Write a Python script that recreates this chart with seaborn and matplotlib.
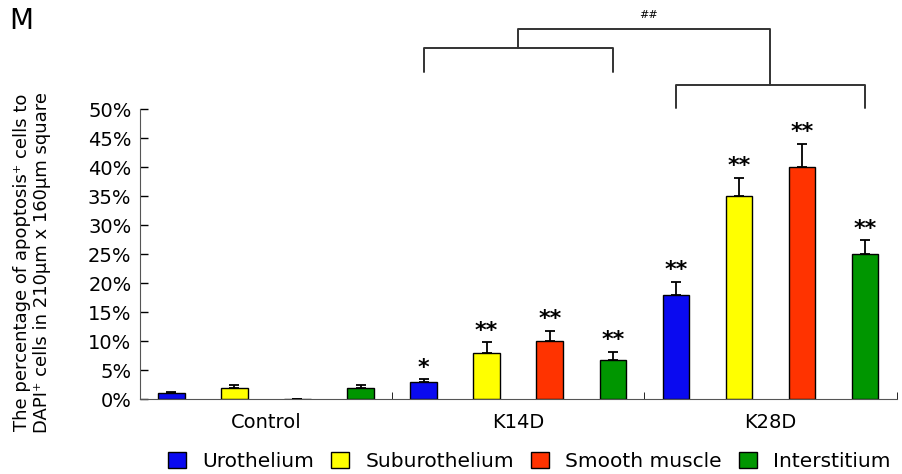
import numpy as np
import pandas as pd
import matplotlib
matplotlib.use('Agg')
import matplotlib.pyplot as plt
import seaborn as sns

groups = ['Control', 'K14D', 'K28D']
tissues = ['Urothelium', 'Suburothelium', 'Smooth muscle', 'Interstitium']
colors = ['#0a0af0', '#ffff00', '#ff3300', '#009600']

# mean percentages per tissue, in the order of groups
urothelium = [1.0, 3.0, 18.0]
suburothelium = [2.0, 8.0, 35.0]
smooth_muscle = [0.0, 10.0, 40.0]
interstitium = [2.0, 6.8, 25.0]

# upper error (SD)
err_urothelium = [0.2, 0.4, 2.2]
err_suburothelium = [0.4, 1.8, 3.1]
err_smooth_muscle = [0.0, 1.8, 4.0]
err_interstitium = [0.4, 1.4, 2.4]

# significance marks
stars_urothelium = ['', '*', '**']
stars_suburothelium = ['', '**', '**']
stars_smooth_muscle = ['', '**', '**']
stars_interstitium = ['', '**', '**']

values = [urothelium, suburothelium, smooth_muscle, interstitium]
errors = [err_urothelium, err_suburothelium, err_smooth_muscle, err_interstitium]
stars = [stars_urothelium, stars_suburothelium, stars_smooth_muscle, stars_interstitium]

df = pd.DataFrame(
    [[g, t, v[i]] for t, v in zip(tissues, values) for i, g in enumerate(groups)],
    columns=['group', 'tissue', 'value']
)

sns.set_style('white')
plt.rcParams['font.family'] = ['DejaVu Sans']
plt.rcParams['text.color'] = 'black'
plt.rcParams['xtick.color'] = 'black'
plt.rcParams['ytick.color'] = 'black'
plt.rcParams['axes.labelcolor'] = 'black'

fig = plt.figure(figsize=(9.02, 4.74), dpi=100)
ax = fig.add_axes([0.155, 0.158, 0.839, 0.612])

sns.barplot(
    data=df, x='group', y='value', hue='tissue',
    order=groups, hue_order=tissues, palette=colors, saturation=1,
    width=1.0, gap=0.58, edgecolor='black', linewidth=1.0,
    errorbar=None, legend=False, ax=ax
)

for cont, err, st in zip(ax.containers, errors, stars):
    xs = [p.get_x() + p.get_width() / 2 for p in cont.patches]
    ys = [p.get_height() for p in cont.patches]
    ax.errorbar(xs, ys, yerr=[np.zeros(len(err)), err], fmt='none',
                ecolor='black', elinewidth=1.3, capsize=3.5, capthick=1.3)
    for x, y, e, s in zip(xs, ys, err, st):
        if s:
            ax.text(x, y + e + 2.0, s, ha='center', va='center',
                    fontsize=16, fontweight='bold')

ax.set_xlim(-0.5, 2.5)
ax.set_ylim(0, 50)
ax.set_yticks(np.arange(0, 51, 5))
ax.set_yticklabels([f'{v}%' for v in range(0, 51, 5)], fontsize=14)
ax.tick_params(axis='y', direction='in', length=6, width=1, left=True, pad=6)
ax.set_xticks([0, 1, 2])
ax.set_xticklabels(groups, fontsize=14)
ax.tick_params(axis='x', length=0, pad=10)
ax.set_xticks([0.5, 1.5, 2.5], minor=True)
ax.tick_params(axis='x', which='minor', direction='in', length=5, bottom=True)
ax.set_xlabel('')
ax.set_ylabel('The percentage of apoptosis\u207a cells to\nDAPI\u207a cells in 210\u03bcm x 160\u03bcm square',
              fontsize=13, linespacing=1.1)
ax.yaxis.set_label_coords(-0.118, 0.47)
for side in ['top', 'right']:
    ax.spines[side].set_visible(False)
for side in ['left', 'bottom']:
    ax.spines[side].set_color('#555555')

# comparison brackets
lk = dict(color='#333333', lw=1.4, clip_on=False)
ax.plot([0.625, 0.625, 1.375, 1.375], [56.4, 60.5, 60.5, 56.4], **lk)
ax.plot([1.625, 1.625, 2.375, 2.375], [50.2, 54.1, 54.1, 50.2], **lk)
ax.plot([1.0, 1.0, 2.0, 2.0], [60.5, 63.8, 63.8, 54.1], **lk)
ax.text(1.515, 65.3, '##', ha='center', va='bottom', fontsize=8)

fig.text(0.01, 0.955, 'M', fontsize=20, va='center', ha='left')

handles = [plt.Rectangle((0, 0), 1, 1, facecolor=c, edgecolor='black', lw=1) for c in colors]
fig.legend(handles, tissues, loc='center', bbox_to_anchor=(0.587, 0.027), ncol=4,
           frameon=False, fontsize=14.5, handlelength=0.9, handleheight=0.9,
           handletextpad=0.8, columnspacing=0.85, borderaxespad=0)

fig.savefig('out.png', dpi=100)
